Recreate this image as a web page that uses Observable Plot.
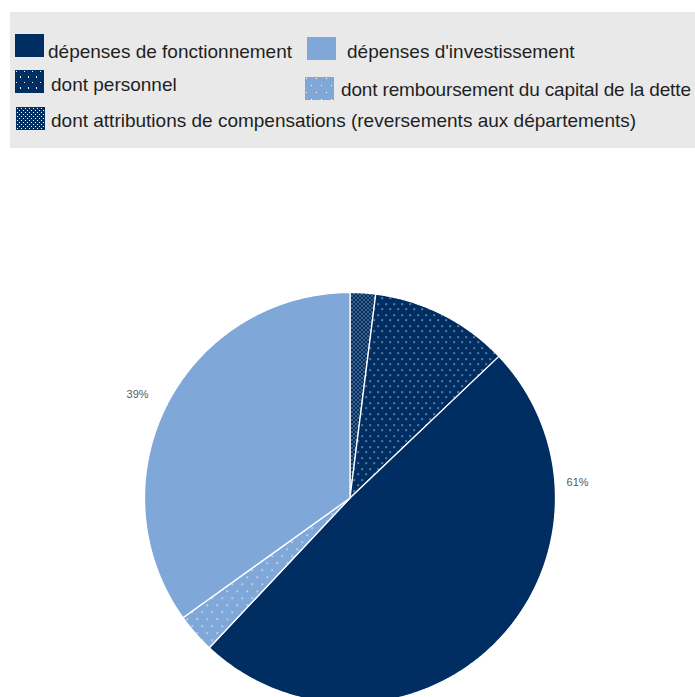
<!DOCTYPE html>
<html>
<head>
<meta charset="utf-8">
<script src="https://cdn.jsdelivr.net/npm/d3@7"></script>
<script src="https://cdn.jsdelivr.net/npm/@observablehq/plot@0.6"></script>
<style>
  html, body { margin: 0; padding: 0; background: #fff; width: 695px; height: 697px; overflow: hidden; }
  #legend { position: relative; width: 695px; height: 148px; }
  #legend .box { position: absolute; left: 10px; top: 12px; width: 685px; height: 136px; background: #e9e9e9; }
  #legend .sw { position: absolute; width: 29px; height: 23px; }
  #legend .tx { position: absolute; font-family: "Liberation Sans", Arial, sans-serif; font-size: 19px; line-height: 19px; color: #1f1f1f; white-space: nowrap; }
  #chart svg { display: block; }
</style>
</head>
<body>
<div id="legend"><div class="box"></div></div>
<div id="chart"></div>
<script>
// ---- data ----
const categories = [
  "dont attributions de compensations (reversements aux départements)",
  "dont personnel",
  "dépenses de fonctionnement",
  "dont remboursement du capital de la dette",
  "dépenses d'investissement"
];
const values = [2.0, 10.9, 49.1, 3.1, 34.9];          // share of total, %
const groups = ["fonctionnement", "fonctionnement", "fonctionnement", "investissement", "investissement"];
const groupNames = ["fonctionnement", "investissement"];
const groupLabels = ["61%", "39%"];
const legendOrder = [
  "dépenses de fonctionnement",
  "dépenses d'investissement",
  "dont personnel",
  "dont remboursement du capital de la dette",
  "dont attributions de compensations (reversements aux départements)"
];

// ---- styles ----
const DARK = "#002d62", LIGHT = "#7fa7d8";
const fills = {
  "dont attributions de compensations (reversements aux départements)": "url(#patComp)",
  "dont personnel": "url(#patPers)",
  "dépenses de fonctionnement": DARK,
  "dont remboursement du capital de la dette": "url(#patDette)",
  "dépenses d'investissement": LIGHT
};
const cssFills = {
  "dont attributions de compensations (reversements aux départements)": `radial-gradient(circle at 1.5px 1.5px, #fff 0.7px, transparent 1px) 0 0/4px 4px, radial-gradient(circle at 3.5px 3.5px, #fff 0.7px, transparent 1px) 0 0/4px 4px, ${DARK}`,
  "dont personnel": `radial-gradient(circle at 1.5px 1.5px, #fff 0.7px, transparent 1px) 0 0/8px 11px, radial-gradient(circle at 5.5px 7px, #fff 0.7px, transparent 1px) 0 0/8px 11px, ${DARK}`,
  "dépenses de fonctionnement": DARK,
  "dont remboursement du capital de la dette": `radial-gradient(circle at 1.5px 1.5px, #fff 0.7px, transparent 1px) 0 0/10px 14px, radial-gradient(circle at 6.5px 8.5px, #fff 0.7px, transparent 1px) 0 0/10px 14px, ${LIGHT}`,
  "dépenses d'investissement": LIGHT
};

// ---- legend (HTML) ----
const legendLayout = [
  {sx: 15, sy: 34, tx: 48, base: 57, ls: 0},
  {sx: 307, sy: 37, tx: 347, base: 57, ls: 0},
  {sx: 15, sy: 70, tx: 51, base: 90, ls: 0},
  {sx: 305, sy: 77, tx: 341, base: 95, ls: -0.15},
  {sx: 16, sy: 107, tx: 51, base: 126, ls: 0}
];
const legend = document.getElementById("legend");
legendOrder.forEach((name, i) => {
  const L = legendLayout[i];
  const sw = document.createElement("div");
  sw.className = "sw";
  sw.style.left = L.sx + "px"; sw.style.top = L.sy + "px";
  sw.style.background = cssFills[name];
  legend.appendChild(sw);
  const tx = document.createElement("div");
  tx.className = "tx";
  tx.style.left = L.tx + "px"; tx.style.top = (L.base - 15) + "px";
  tx.style.letterSpacing = L.ls + "px";
  tx.textContent = name;
  legend.appendChild(tx);
});

// ---- pie geometry ----
const W = 695, H = 549, CX = 349.5, CY = 349.5, R = 205.5;
const pie = d3.pie().sort(null).startAngle(0).endAngle(2 * Math.PI)(values);
const slices = pie.map((p, i) => {
  const pts = [{u: 0, v: 0}];
  const n = Math.max(2, Math.ceil((p.endAngle - p.startAngle) / (Math.PI / 360)));
  for (let k = 0; k <= n; k++) {
    const a = p.startAngle + (p.endAngle - p.startAngle) * k / n;
    pts.push({u: Math.sin(a), v: Math.cos(a)});
  }
  pts.push({u: 0, v: 0});
  return {name: categories[i], pts};
});

// group labels, placed by angle / radius in pie units
const labelLayout = [{angle: 86, r: 1.11}, {angle: 296, r: 1.15}];
const labelData = groupNames.map((g, i) => {
  const a = labelLayout[i].angle * Math.PI / 180, r = labelLayout[i].r;
  return {text: groupLabels[i], u: r * Math.sin(a), v: r * Math.cos(a)};
});

const marks = slices.map(s =>
  Plot.line(s.pts, {x: "u", y: "v", fill: fills[s.name], stroke: "#ffffff", strokeWidth: 1.3, strokeLinejoin: "round", curve: "linear"})
);
marks.push(Plot.text(labelData, {x: "u", y: "v", text: "text", fontSize: 11, fill: "#5a5a5a", fontFamily: "Liberation Sans, Arial, sans-serif"}));

const svg = Plot.plot({
  width: W, height: H,
  margin: 0,
  x: {domain: [-CX / R, (W - CX) / R], axis: null},
  y: {domain: [-(H - CY) / R, CY / R], axis: null},
  style: {background: "transparent", overflow: "visible"},
  marks
});

svg.insertAdjacentHTML("afterbegin", `
<defs>
  <pattern id="patComp" patternUnits="userSpaceOnUse" width="4" height="4">
    <rect width="4" height="4" fill="${DARK}"/>
    <rect x="1" y="1" width="1" height="1" fill="#fff"/>
    <rect x="3" y="3" width="1" height="1" fill="#fff"/>
  </pattern>
  <pattern id="patPers" patternUnits="userSpaceOnUse" width="8" height="11">
    <rect width="8" height="11" fill="${DARK}"/>
    <rect x="1" y="1" width="1.2" height="1.2" fill="#fff"/>
    <rect x="5" y="6" width="1.2" height="1.2" fill="#fff"/>
  </pattern>
  <pattern id="patDette" patternUnits="userSpaceOnUse" width="10" height="14">
    <rect width="10" height="14" fill="${LIGHT}"/>
    <rect x="1" y="1" width="1.3" height="1.3" fill="#fff"/>
    <rect x="6" y="8" width="1.3" height="1.3" fill="#fff"/>
  </pattern>
</defs>`);
document.getElementById("chart").appendChild(svg);
</script>
</body>
</html>
